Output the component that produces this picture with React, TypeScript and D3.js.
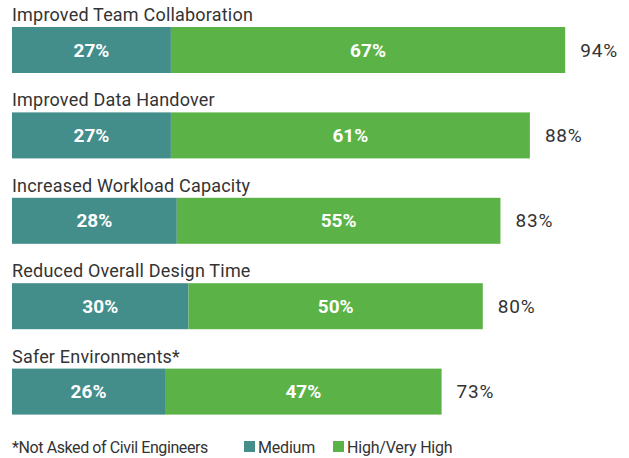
import React from 'react'
import * as d3 from 'd3'

const categories = [
  'Improved Team Collaboration',
  'Improved Data Handover',
  'Increased Workload Capacity',
  'Reduced Overall Design Time',
  'Safer Environments*',
]
const medium = [27, 27, 28, 30, 26]
const high = [67, 61, 55, 50, 47]
const totals = [94, 88, 83, 80, 73]
const seriesNames = ['Medium', 'High/Very High']
const footnote = '*Not Asked of Civil Engineers'

const W = 629
const H = 458
const TEAL = '#438d8b'
const GREEN = '#5bb347'
const TEXT = '#333333'
const FONT = 'Roboto, "Open Sans", sans-serif'

export default function App() {
  const x = d3.scaleLinear().domain([0, 100]).range([12, 600.5])
  // each band holds the label row plus the bar
  const y = d3.scaleBand<string>().domain(categories).range([0, 427]).paddingInner(0)
  const color = d3.scaleOrdinal<string>().domain(seriesNames).range([TEAL, GREEN])

  const barTop = 27
  const barH = 46

  return (
    <svg width={W} height={H} style={{ position: 'absolute', left: 0, top: 0 }} fontFamily={FONT}>
      {categories.map((c, i) => {
        const y0 = (y(c) || 0)
        const m = medium[i]
        const h = high[i]
        return (
          <g key={c} transform={`translate(0, ${y0})`}>
            <text x={12} y={21} fontSize={18} fill={TEXT} letterSpacing={0.2}>{c}</text>
            <rect x={x(0)} y={barTop} width={x(m) - x(0)} height={barH} fill={color('Medium')} />
            <rect x={x(m)} y={barTop} width={x(m + h) - x(m)} height={barH} fill={color('High/Very High')} />
            <text x={(x(0) + x(m)) / 2} y={barTop + barH / 2} dy="0.35em" textAnchor="middle"
              fontSize={19} fontWeight="bold" fill="#fff">{m}%</text>
            <text x={(x(m) + x(m + h)) / 2} y={barTop + barH / 2} dy="0.35em" textAnchor="middle"
              fontSize={19} fontWeight="bold" fill="#fff">{h}%</text>
            <text x={x(totals[i]) + 15} y={barTop + barH / 2} dy="0.35em"
              fontSize={19} fill={TEXT} letterSpacing={0.8}>{totals[i]}%</text>
          </g>
        )
      })}
      <g transform="translate(0, 447)">
        <text x={12} y={0} dy="0.35em" fontSize={16} letterSpacing={-0.4} fill={TEXT}>{footnote}</text>
        {seriesNames.map((s, i) => {
          const lx = i === 0 ? 244 : 333
          return (
            <g key={s}>
              <rect x={lx} y={-6} width={11} height={11} fill={color(s)} />
              <text x={lx + 14} y={0} dy="0.35em" fontSize={16} letterSpacing={-0.2} fill={TEXT}>{s}</text>
            </g>
          )
        })}
      </g>
    </svg>
  )
}
